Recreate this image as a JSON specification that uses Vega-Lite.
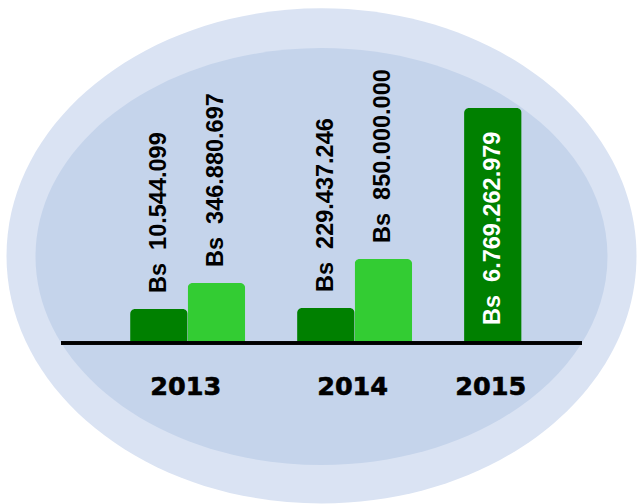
{
  "$schema": "https://vega.github.io/schema/vega-lite/v6.json",
  "width": 521,
  "height": 343,
  "autosize": {"type": "none"},
  "padding": {"left": 61, "top": 0, "right": 56, "bottom": 161},
  "background": "white",
  "config": {"view": {"stroke": null}},
  "datasets": {
    "montos": [
      {"anio": "2013", "serie": "A", "valor": 10544099, "etiqueta": "Bs \u00a010.544.099"},
      {"anio": "2013", "serie": "B", "valor": 346880697, "etiqueta": "Bs \u00a0346.880.697"},
      {"anio": "2014", "serie": "A", "valor": 229437246, "etiqueta": "Bs \u00a0229.437.246"},
      {"anio": "2014", "serie": "B", "valor": 850000000, "etiqueta": "Bs \u00a0850.000.000"},
      {"anio": "2015", "serie": "A", "valor": 6769262979, "etiqueta": "Bs \u00a06.769.262.979"}
    ],
    "fondo": [
      {"capa": "exterior"},
      {"capa": "interior"}
    ]
  },
  "resolve": {"scale": {"x": "independent", "y": "independent", "color": "independent"}},
  "layer": [
    {
      "data": {"name": "fondo"},
      "transform": [{"filter": "datum.capa == 'exterior'"}],
      "mark": {
        "type": "point",
        "filled": true,
        "opacity": 1,
        "color": "#dae3f3",
        "shape": "M-1,0C-1,-0.434,-0.5523,-0.786,0,-0.786C0.5523,-0.786,1,-0.434,1,0C1,0.434,0.5523,0.786,0,0.786C-0.5523,0.786,-1,0.434,-1,0Z",
        "size": 396900
      },
      "encoding": {
        "x": {"datum": 0.5, "type": "quantitative", "scale": {"domain": [0, 1]}, "axis": null},
        "y": {"datum": 0.254, "type": "quantitative", "scale": {"domain": [0, 1]}, "axis": null}
      }
    },
    {
      "data": {"name": "fondo"},
      "transform": [{"filter": "datum.capa == 'interior'"}],
      "mark": {
        "type": "point",
        "filled": true,
        "opacity": 1,
        "color": "#c5d4eb",
        "shape": "M-1,0C-1,-0.4026,-0.5523,-0.729,0,-0.729C0.5523,-0.729,1,-0.4026,1,0C1,0.4026,0.5523,0.729,0,0.729C-0.5523,0.729,-1,0.4026,-1,0Z",
        "size": 327184
      },
      "encoding": {
        "x": {"datum": 0.5, "type": "quantitative", "scale": {"domain": [0, 1]}, "axis": null},
        "y": {"datum": 0.252, "type": "quantitative", "scale": {"domain": [0, 1]}, "axis": null}
      }
    },
    {
      "data": {"name": "montos"},
      "encoding": {
        "x": {
          "field": "anio",
          "type": "nominal",
          "scale": {"domain": ["2013", "2014", "2015"], "paddingInner": 0.311, "paddingOuter": 0.2156, "align": 0.96},
          "axis": null
        },
        "y": {
          "field": "valor",
          "type": "quantitative",
          "scale": {
            "domain": [0, 10544099, 229437246, 346880697, 850000000, 6769262979],
            "range": [343, 309, 308, 283, 259, 108],
            "nice": false,
            "zero": false
          },
          "axis": null
        }
      },
      "layer": [
        {
          "mark": {"type": "bar", "cornerRadiusTopLeft": 5, "cornerRadiusTopRight": 5},
          "encoding": {
            "xOffset": {"field": "serie", "type": "nominal", "scale": {"domain": ["A", "B"], "paddingInner": 0, "paddingOuter": 0}},
            "color": {
              "field": "serie",
              "type": "nominal",
              "scale": {"domain": ["A", "B"], "range": ["#008000", "#33cc33"]},
              "legend": null
            }
          }
        },
        {
          "mark": {"type": "rule", "color": "black", "strokeWidth": 3},
          "encoding": {"x": null, "y": {"datum": 0}}
        },
        {
          "transform": [{"filter": "datum.anio != '2015'"}],
          "mark": {
            "type": "text",
            "angle": 270,
            "align": "left",
            "baseline": "middle",
            "dx": 16,
            "font": "Liberation Sans",
            "fontWeight": "bold",
            "fontSize": 23.5,
            "color": "black"
          },
          "encoding": {
            "xOffset": {"field": "serie", "type": "nominal"},
            "text": {"field": "etiqueta"}
          }
        },
        {
          "transform": [{"filter": "datum.anio == '2015'"}],
          "mark": {
            "type": "text",
            "angle": 270,
            "align": "left",
            "baseline": "middle",
            "dx": 18,
            "font": "Liberation Sans",
            "fontWeight": "bold",
            "fontSize": 23.5,
            "color": "white"
          },
          "encoding": {
            "xOffset": {"field": "serie", "type": "nominal"},
            "text": {"field": "etiqueta"},
            "y": {"datum": 0}
          }
        },
        {
          "transform": [{"filter": "datum.serie == 'A' && datum.anio != '2015'"}],
          "mark": {
            "type": "text",
            "align": "center",
            "baseline": "middle",
            "dx": -2,
            "dy": 44,
            "font": "DejaVu Sans",
            "fontWeight": "bold",
            "fontSize": 25.5,
            "fill": "black",
            "stroke": "black",
            "strokeWidth": 0.6
          },
          "encoding": {"text": {"field": "anio"}, "y": {"datum": 0}}
        },
        {
          "transform": [{"filter": "datum.anio == '2015'"}],
          "mark": {
            "type": "text",
            "align": "center",
            "baseline": "middle",
            "dx": -2,
            "dy": 44,
            "font": "DejaVu Sans",
            "fontWeight": "bold",
            "fontSize": 25.5,
            "fill": "black",
            "stroke": "black",
            "strokeWidth": 0.6
          },
          "encoding": {"text": {"field": "anio"}, "xOffset": {"field": "serie", "type": "nominal"}, "y": {"datum": 0}}
        }
      ]
    }
  ]
}
